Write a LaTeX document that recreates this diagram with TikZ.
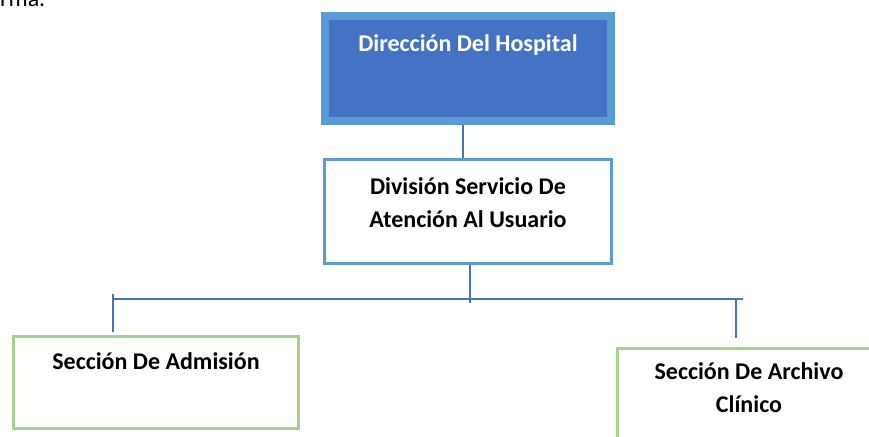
\documentclass[tikz,border=0pt]{standalone}
\usepackage{fontspec}
\setmainfont{Carlito}
\definecolor{azul}{HTML}{4472C4}
\definecolor{celeste}{HTML}{5B9BD5}
\definecolor{verde}{HTML}{A9D18E}

\begin{document}
\begin{tikzpicture}[x=1pt, y=-1pt, inner sep=0pt,
    font=\fontsize{24}{33}\selectfont\bfseries, align=center,
    jefe/.style={draw=celeste, fill=azul, text=white, line width=8pt,
      minimum width=286pt, text height=36pt, text depth=69pt},
    division/.style={draw=celeste, line width=3pt,
      minimum width=287pt, text height=67.5pt, text depth=36.5pt},
    seccion/.style={draw=verde, line width=3pt},
    linea/.style={draw=azul, line width=1.2pt}]
  \useasboundingbox (0,0) rectangle (869,436);
  \node[anchor=base west, font=\fontsize{24}{33}\selectfont] (frag) at (0,7) {rma.};

  \node[jefe] (dir) at (468,68.5) {Dirección Del Hospital};
  \node[division] (div) at (468,211.5) {División Servicio De\\Atención Al Usuario};
  \node[seccion, minimum width=285pt, text height=32.5pt, text depth=59.5pt]
    (adm) at (156,382.5) {Sección De Admisión};
  \node[seccion, minimum width=263pt, text height=63.5pt, text depth=28.5pt]
    (arch) at (749,394.5) {Sección De Archivo\\Clínico};

  % ramas
  \coordinate (busL) at (113,299);
  \coordinate (busR) at (743,299);
  \coordinate (tickR) at (736,299);
  \draw[linea] ([xshift=-5pt]dir.south) -- ([xshift=-5pt]div.north);
  \draw[linea] ([xshift=2pt]div.south) -- ++(0,38);
  \draw[linea] (busL) -- (busR);
  \draw[linea] ([yshift=5pt]busL) -- ([yshift=3pt]adm.north -| busL);
  \draw[linea] (tickR) -- ([yshift=9pt]arch.north -| tickR);
\end{tikzpicture}
\end{document}
